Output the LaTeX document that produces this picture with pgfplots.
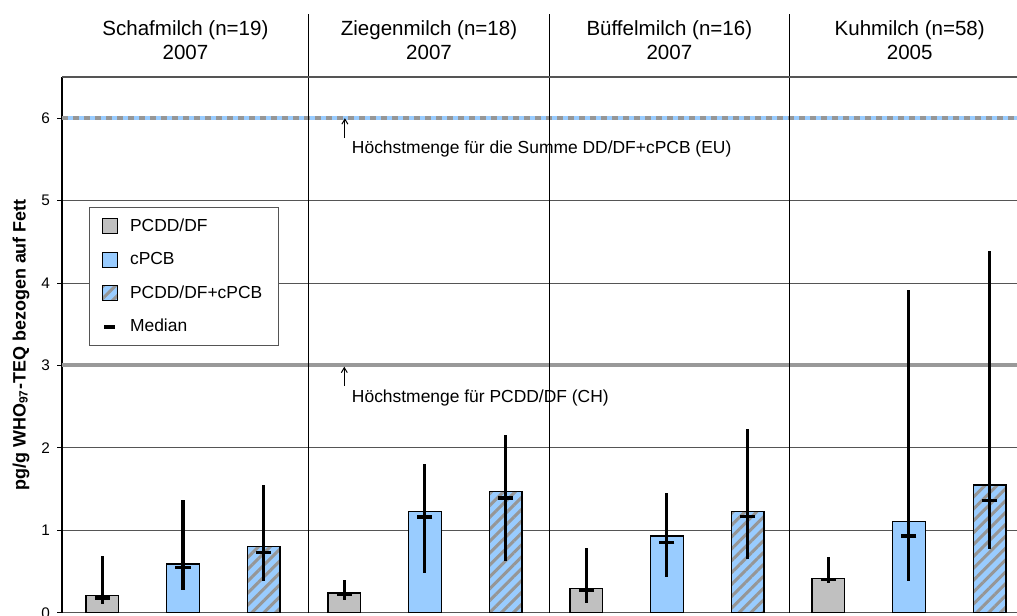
\documentclass[border=0pt]{standalone}
\usepackage{fontspec}
\setmainfont{Liberation Sans}
\usepackage{pgfplots}
\pgfplotsset{compat=1.18}
\usetikzlibrary{patterns.meta, arrows.meta}
\definecolor{pcdd}{HTML}{C0C0C0}
\definecolor{cpcb}{HTML}{99CCFF}
\definecolor{hatch}{HTML}{969696}
\definecolor{chline}{HTML}{999999}
\definecolor{gridc}{HTML}{555555}
\tikzset{ttl/.style={anchor=base, inner sep=0pt, font=\fontsize{10.3}{12}\selectfont}}
\begin{document}
\begin{tikzpicture}
\begin{axis}[
  scale only axis, width=477.4bp, height=267.8bp,
  xmin=-0.5, xmax=11.34, ymin=0, ymax=6.5,
  axis lines*=left,
  x axis line style={draw=gridc, line width=0.6bp},
  y axis line style={draw=black, line width=0.6bp},
  xtick=\empty,
  ytick={0,1,2,3,4,5,6},
  tick align=outside, major tick length=2.5bp,
  tick style={black, line width=0.5bp},
  ymajorgrids, grid style={draw=gridc, line width=0.5bp},
  yticklabel style={font=\fontsize{7.7}{9}\selectfont, /pgf/number format/assume math mode=true},
  ylabel={\textbf{pg/g WHO\textsubscript{97}-TEQ bezogen auf Fett}},
  ylabel style={font=\fontsize{9}{11}\selectfont, at={(axis description cs:-0.043,0.5)}, anchor=center},
  clip=false,
  legend style={at={(axis description cs:0.0283,0.757)}, anchor=north west, draw=gridc, line width=0.5bp,
    font=\fontsize{8.75}{10}\selectfont, row sep=5bp, inner xsep=6bp, inner ysep=3.5bp, cells={anchor=west}},
]
% limit lines
\addplot[forget plot, draw=chline, line width=2bp] coordinates {(-0.5,3) (11.34,3)};
\addplot[forget plot, draw=cpcb, line width=2bp] coordinates {(-0.5,6) (11.34,6)};
\addplot[forget plot, draw=hatch, line width=2bp, dash pattern=on 3bp off 2.5bp] coordinates {(-0.5,6) (11.34,6)};
% bars
\addplot[forget plot, ybar, bar width=0.405, bar shift=0pt, fill=pcdd, draw=black, line width=0.6bp]
  coordinates {(0,0.21) (3,0.24) (6,0.29) (9,0.42)};
\addplot[forget plot, ybar, bar width=0.405, bar shift=0pt, fill=cpcb, draw=black, line width=0.6bp]
  coordinates {(1,0.59) (4,1.23) (7,0.93) (10,1.11)};
\addplot[forget plot, ybar, bar width=0.405, bar shift=0pt, fill=cpcb, draw=none]
  coordinates {(2,0.80) (5,1.47) (8,1.23) (11,1.55)};
\addplot[forget plot, ybar, bar width=0.405, bar shift=0pt, draw=black, line width=0.6bp,
  pattern={Lines[angle=45,distance=4.2bp,line width=1.5bp]}, pattern color=hatch]
  coordinates {(2,0.80) (5,1.47) (8,1.23) (11,1.55)};
% ranges and medians
\addplot[forget plot, only marks, mark=-, mark size=3.75bp, mark options={line width=1.75bp, black},
  error bars/.cd, y dir=both, y explicit, error mark=none, error bar style={line width=1.5bp, black}]
  coordinates {
  (0,0.18) += (0,0.51) -= (0,0.08)
  (1,0.55) += (0,0.82) -= (0,0.28)
  (2,0.73) += (0,0.82) -= (0,0.35)
  (3,0.22) += (0,0.18) -= (0,0.07)
  (4,1.16) += (0,0.65) -= (0,0.68)
  (5,1.39) += (0,0.77) -= (0,0.76)
  (6,0.27) += (0,0.51) -= (0,0.15)
  (7,0.85) += (0,0.60) -= (0,0.42)
  (8,1.17) += (0,1.06) -= (0,0.52)
  (9,0.405) += (0,0.275) -= (0,0.045)
  (10,0.93) += (0,2.98) -= (0,0.545)
  (11,1.36) += (0,3.03) -= (0,0.59)
  };
% separators
\draw[black, line width=0.5bp] (axis cs:2.56,0) -- (axis cs:2.56,7.26);
\draw[black, line width=0.5bp] (axis cs:5.54,0) -- (axis cs:5.54,7.26);
\draw[black, line width=0.5bp] (axis cs:8.52,0) -- (axis cs:8.52,7.26);
\draw[draw=gridc, line width=0.6bp] (axis cs:-0.5,6.5) -- (axis cs:11.34,6.5);
% titles
\node[ttl] at (axis cs:1.03,7.002) {Schafmilch (n=19)};
\node[ttl] at (axis cs:1.03,6.711) {2007};
\node[ttl] at (axis cs:4.05,7.002) {Ziegenmilch (n=18)};
\node[ttl] at (axis cs:4.05,6.711) {2007};
\node[ttl] at (axis cs:7.03,7.002) {Büffelmilch (n=16)};
\node[ttl] at (axis cs:7.03,6.711) {2007};
\node[ttl] at (axis cs:10.01,7.002) {Kuhmilch (n=58)};
\node[ttl] at (axis cs:10.01,6.711) {2005};
% annotations
\draw[-{Straight Barb[length=2.5bp,width=3bp]}, line width=0.5bp] (axis cs:3.007,5.757) -- (axis cs:3.007,6.0);
\node[anchor=base west, inner sep=0pt, font=\fontsize{8.75}{10}\selectfont] at (axis cs:3.09,5.575) {Höchstmenge für die Summe DD/DF+cPCB (EU)};
\draw[-{Straight Barb[length=2.5bp,width=3bp]}, line width=0.5bp] (axis cs:3.0,2.755) -- (axis cs:3.0,2.985);
\node[anchor=base west, inner sep=0pt, font=\fontsize{8.75}{10}\selectfont] at (axis cs:3.09,2.553) {Höchstmenge für PCDD/DF (CH)};
% legend
\addlegendimage{legend image code/.code={\draw[fill=pcdd, draw=black, line width=0.5bp] (0bp,-3.75bp) rectangle (7.5bp,3.75bp); \path[draw=none] (0bp,0bp) -- (12bp,0bp);}}
\addlegendentry{PCDD/DF}
\addlegendimage{legend image code/.code={\draw[fill=cpcb, draw=black, line width=0.5bp] (0bp,-3.75bp) rectangle (7.5bp,3.75bp); \path[draw=none] (0bp,0bp) -- (12bp,0bp);}}
\addlegendentry{cPCB}
\addlegendimage{legend image code/.code={\fill[cpcb] (0bp,-3.75bp) rectangle (7.5bp,3.75bp);
   \draw[draw=black, line width=0.5bp, pattern={Lines[angle=45,distance=4.2bp,line width=1.5bp]}, pattern color=hatch] (0bp,-3.75bp) rectangle (7.5bp,3.75bp); \path[draw=none] (0bp,0bp) -- (12bp,0bp);}}
\addlegendentry{PCDD/DF+cPCB}
\addlegendimage{legend image code/.code={\draw[black, line width=1.75bp] (1bp,0bp) -- (6.5bp,0bp); \path[draw=none] (0bp,0bp) -- (12bp,0bp);}}
\addlegendentry{Median}
\coordinate (BL) at (rel axis cs:0,0);
\coordinate (TR) at (rel axis cs:1,1);
\end{axis}
\pgfresetboundingbox
\path ([xshift=-31bp,yshift=-1.15bp]BL) rectangle ([yshift=38.5bp]TR);
\end{tikzpicture}
\end{document}
